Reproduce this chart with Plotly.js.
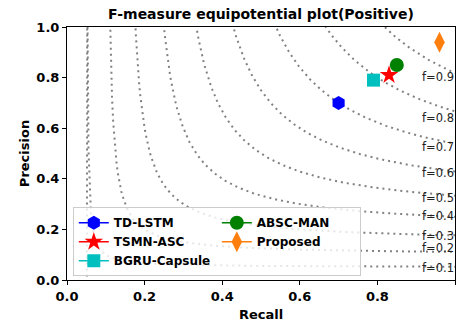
<!DOCTYPE html>
<html>
<head>
<meta charset="utf-8">
<script src="https://cdn.plot.ly/plotly-3.0.1.min.js"></script>
<style>html,body{margin:0;padding:0;background:#fff}#chart{width:466px;height:327px}</style>
</head>
<body>
<div id="chart"></div>
<script>
// Data
var methods   = ["TD-LSTM", "TSMN-ASC", "BGRU-Capsule", "ABSC-MAN", "Proposed"];
var recall    = [0.70, 0.83, 0.79, 0.85, 0.96];
var precision = [0.70, 0.81, 0.79, 0.85, 0.94];
var colors    = ["#0000ff", "#ff0000", "#00bfbf", "#008000", "#ff7f0e"];
var symbols   = ["hexagon", "star", "square", "circle", "diamond-tall"];
var sizes     = [14, 14, 13, 14, 15];
var legendOrder = [1, 3, 5, 2, 4];

var fScores   = [0.1, 0.2, 0.3, 0.4, 0.5, 0.6, 0.7, 0.8, 0.9];
var fLabelY   = [0.042, 0.121, 0.171, 0.248, 0.320, 0.418, 0.520, 0.637, 0.796];

var traces = [];
// iso F-measure curves
fScores.forEach(function(f){
  var xs = [], ys = [];
  var r0 = f/(2-f) - 0.01;
  var n = 300;
  for (var i = 0; i <= n; i++) {
    var r = r0 + (1 - r0) * i / n;
    xs.push(r);
    ys.push(f*r/(2*r - f));
  }
  traces.push({x: xs, y: ys, mode: 'lines', showlegend: false, hoverinfo: 'skip',
    line: {color: 'rgba(115,115,115,0.9)', width: 2, dash: '2px,4px'}});
});
// labels
traces.push({
  x: fScores.map(function(){return 0.915;}),
  y: fLabelY,
  text: fScores.map(function(f){return 'f=' + f.toFixed(1);}),
  mode: 'text', textposition: 'middle right', cliponaxis: true,
  showlegend: false, hoverinfo: 'skip',
  textfont: {family: 'DejaVu Sans', size: 11.5, color: '#222'}
});
// methods
methods.forEach(function(m, i){
  traces.push({
    x: [recall[i]], y: [precision[i]], name: m, mode: 'lines+markers',
    legendrank: legendOrder[i],
    marker: {color: colors[i], symbol: symbols[i], size: sizes[i], line: {width: 0}},
    line: {color: colors[i], width: 1.5}
  });
});

var bold = {family: 'DejaVu Sans', size: 13, color: '#000', weight: 'bold'};
var layout = {
  width: 466, height: 327,
  margin: {l: 67, r: 11, t: 27, b: 47},
  paper_bgcolor: '#fff', plot_bgcolor: '#fff',
  title: {text: 'F-measure equipotential plot(Positive)', font: {family: 'DejaVu Sans', size: 14, color: '#000', weight: 'bold'}, x: 0.5, xref: 'paper', xanchor: 'center', y: 0.957, yanchor: 'middle'},
  xaxis: {range: [0, 1], tickvals: [0, 0.2, 0.4, 0.6, 0.8, 1.0], tickformat: '.1f',
    showgrid: false, zeroline: false, showline: true, mirror: true, linecolor: '#000', linewidth: 1,
    ticks: 'outside', ticklen: 4, tickcolor: '#000', tickfont: bold,
    title: {text: 'Recall', font: bold, standoff: 7}},
  yaxis: {range: [0, 1], tickvals: [0, 0.2, 0.4, 0.6, 0.8, 1.0], tickformat: '.1f',
    showgrid: false, zeroline: false, showline: true, mirror: true, linecolor: '#000', linewidth: 1,
    ticks: 'outside', ticklen: 4, tickcolor: '#000', tickfont: bold,
    title: {text: 'Precision', font: bold, standoff: 3}},
  legend: {x: 0.015, xanchor: 'left', y: 0.015, yanchor: 'bottom', orientation: 'h',
    entrywidth: 98, entrywidthmode: 'pixels',
    bgcolor: 'rgba(255,255,255,0.8)', bordercolor: '#cccccc', borderwidth: 1,
    font: {family: 'DejaVu Sans', size: 12, color: '#000', weight: 'bold'},
    itemwidth: 30, traceorder: 'normal'},
  showlegend: true
};
Plotly.newPlot('chart', traces, layout, {displayModeBar: false, staticPlot: true});
</script>
</body>
</html>
